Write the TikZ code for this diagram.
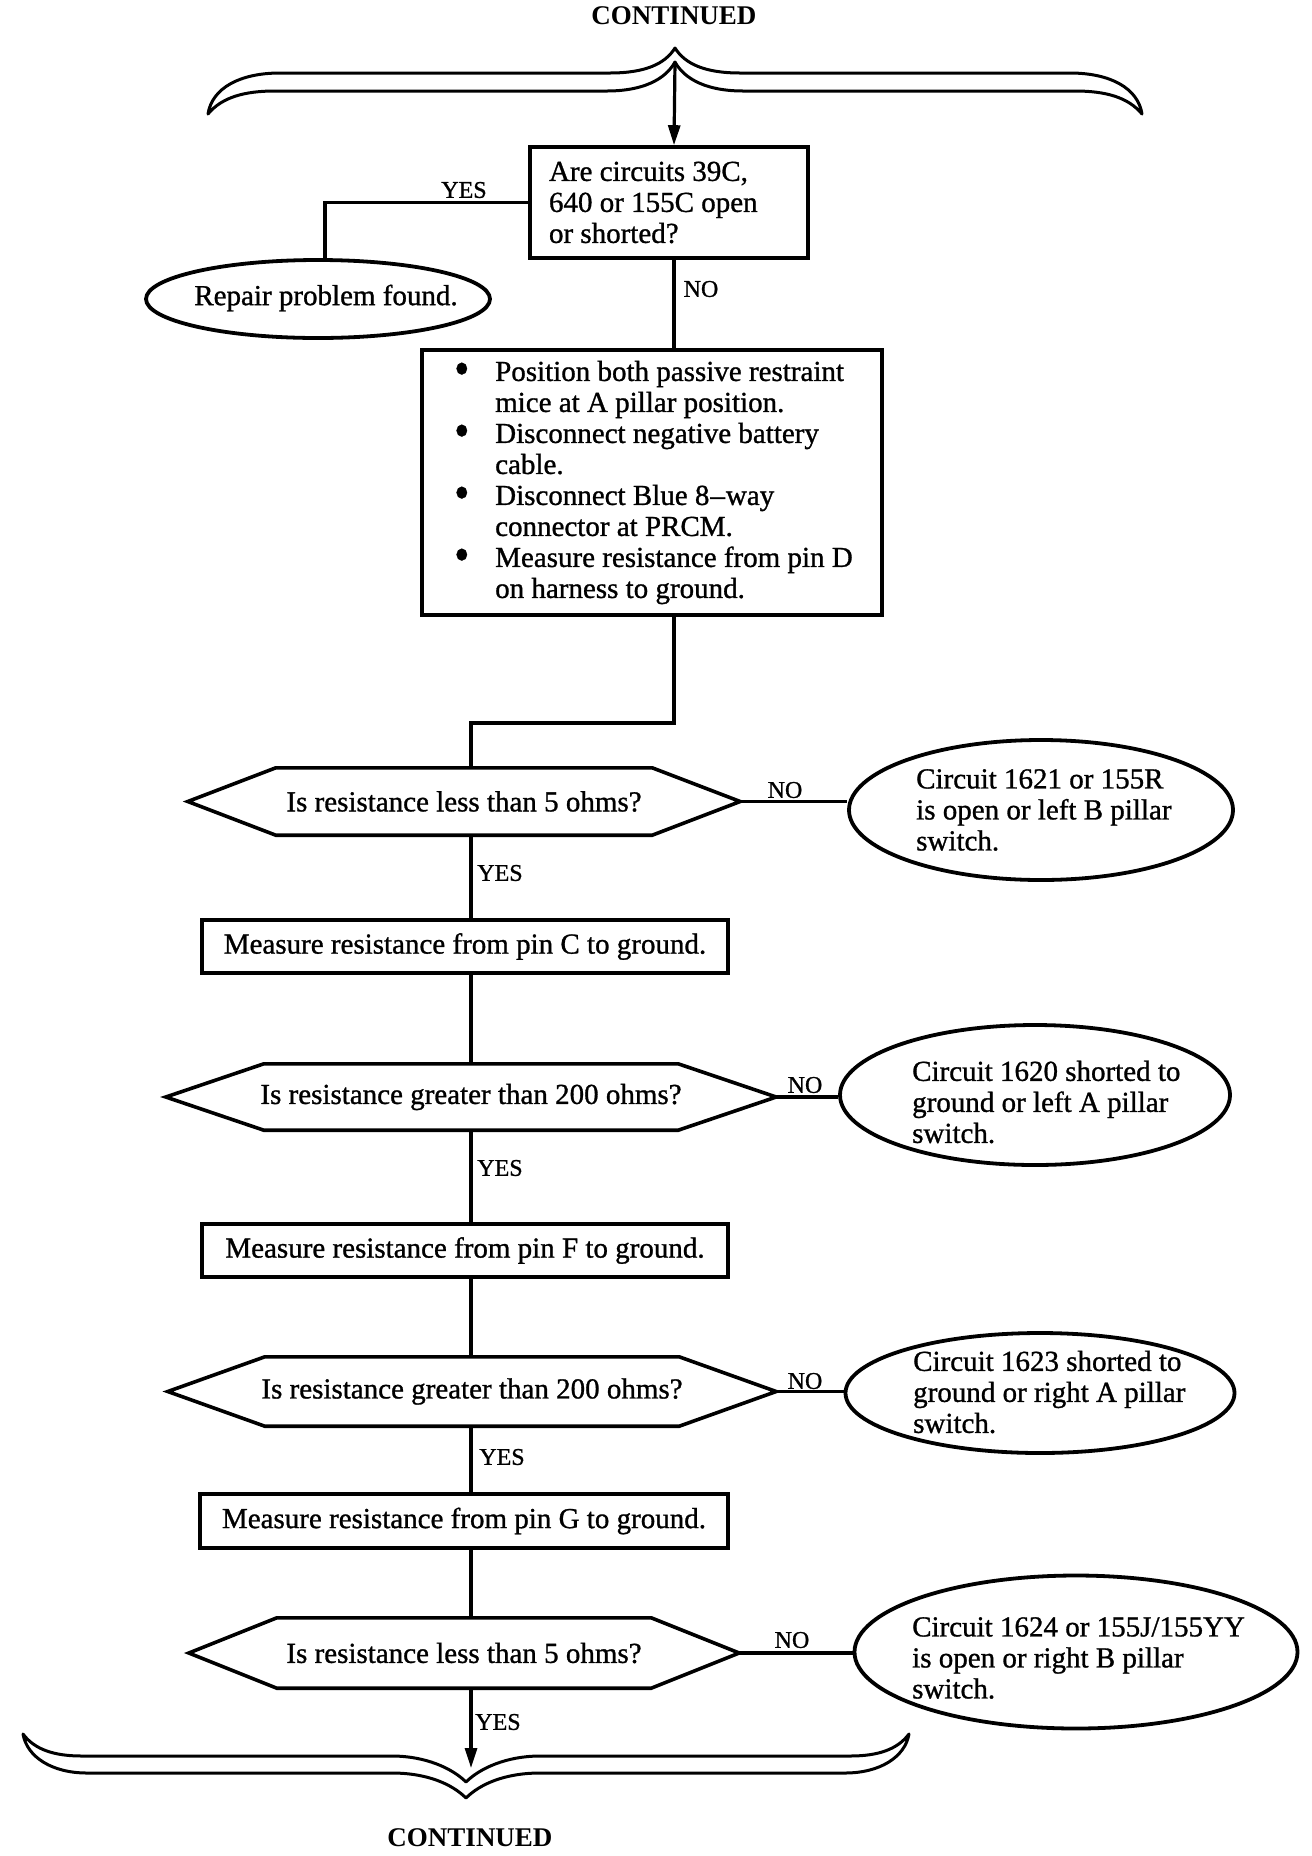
\documentclass[tikz,border=0pt]{standalone}
\usepackage{fontspec}
\setmainfont{Liberation Serif}
\newfontfamily\scanfont{Liberation Serif}[FakeBold=1.0,Ligatures=TeX]
\usetikzlibrary{arrows.meta,shapes.geometric}
\newcommand\hexframe[2]{\draw[hexline] (#1.west) -- ([xshift=#2]#1.north west) -- ([xshift=-#2]#1.north east) -- (#1.east) -- ([xshift=-#2]#1.south east) -- ([xshift=#2]#1.south west) -- cycle;}
\newcommand\bul{\makebox[50pt][l]{\hspace*{9pt}\raisebox{-4pt}{\scalebox{1.5}[1.7]{\textbullet}}}}
\newcommand\ind{\makebox[50pt][l]{}}
\begin{document}
\begin{tikzpicture}[x=1pt,y=-1pt,
  txt/.style={font=\scanfont\fontsize{29}{31}\selectfont, inner sep=0pt},
  boxnode/.style={txt, draw, line width=3.6pt, align=center},
  hexnode/.style={txt, align=center},
  hexline/.style={line width=3.6pt, line join=miter},
  ovalnode/.style={draw, ellipse, line width=3.8pt, inner sep=0pt},
  ovaltext/.style={txt, align=left},
  lbl/.style={font=\scanfont\fontsize{24}{26}\selectfont, inner sep=0pt},
  contlbl/.style={font=\bfseries\fontsize{27}{29}\selectfont, inner sep=0pt},
  conn/.style={line width=3.2pt},
  arr/.style={conn, -{Triangle[length=20pt,width=12pt]}},
  bracestyle/.style={line width=3pt, line join=round, fill=white}
]
\useasboundingbox (0,0) rectangle (1312,1856);
\fill[white] (0,0) rectangle (1312,1856);

% helper coordinates
\coordinate (spine) at (471,0);
\coordinate (mainx) at (674,0);
\coordinate (yesx) at (325,0);
\coordinate (bend) at (674,723);
\coordinate (topnotch) at (675,62);
\coordinate (botend) at (471,1768);

% continuation labels
\node[contlbl] (cont1) at (674,16) {CONTINUED};
\node[contlbl] (cont2) at (470,1838) {CONTINUED};

% top brace
\draw[bracestyle] (208,114) .. controls (212,88) and (240,73) .. (280,73) -- (610,73)
  .. controls (645,73) and (665,64) .. (675,48)
  .. controls (685,64) and (705,73) .. (740,73) -- (1070,73)
  .. controls (1110,73) and (1138,88) .. (1142,114)
  .. controls (1128,97) and (1105,91) .. (1075,91) -- (743,91)
  .. controls (708,91) and (685,80) .. (675,62)
  .. controls (665,80) and (642,91) .. (607,91) -- (275,91)
  .. controls (245,91) and (222,97) .. (208,114) -- cycle;

% bottom brace
\draw[bracestyle] (23,1734) .. controls (35,1750) and (55,1756) .. (82,1756) -- (392,1756)
  .. controls (425,1756) and (452,1768) .. (466,1782)
  .. controls (480,1768) and (507,1756) .. (540,1756) -- (850,1756)
  .. controls (877,1756) and (897,1750) .. (909,1734)
  .. controls (905,1757) and (880,1773) .. (845,1773) -- (540,1773)
  .. controls (505,1773) and (480,1784) .. (466,1798)
  .. controls (452,1784) and (427,1773) .. (392,1773) -- (87,1773)
  .. controls (52,1773) and (27,1757) .. (23,1734) -- cycle;

% first question
\node[boxnode, minimum width=278pt, minimum height=111pt, text width=240pt, align=flush left] (q1) at (669,202.5)
  {Are circuits 39C,\\640 or 155C open\\or shorted?};
\node[ovalnode, minimum width=344pt, minimum height=78pt] (rep) at (318,299) {};
\node[txt] (reptxt) at (326,298) {Repair problem found.};

% steps box
\node[boxnode, minimum width=460pt, minimum height=265pt] (steps) at (652,482.5) {};
\node[txt, align=left, anchor=west] (stepst) at (445,482.5)
  {\bul Position both passive restraint\\
   \ind mice at A pillar position.\\
   \bul Disconnect negative battery\\
   \ind cable.\\
   \bul Disconnect Blue 8\kern1pt–\kern1pt way\\
   \ind connector at PRCM.\\
   \bul Measure resistance from pin D\\
   \ind on harness to ground.};

% decisions
\node[hexnode, minimum width=552pt, minimum height=67pt] (d1) at (464,801.5) {Is resistance less than 5 ohms?};
\hexframe{d1}{88pt}
\node[ovalnode, minimum width=384pt, minimum height=140pt] (e1) at (1041,810) {};
\node[ovaltext, anchor=west] (e1t) at (916,810) {Circuit 1621 or 155R\\is open or left B pillar\\switch.};

\node[boxnode, minimum width=526pt, minimum height=53pt] (mc) at (465,946.5) {Measure resistance from pin C to ground.};

\node[hexnode, minimum width=610pt, minimum height=66pt] (d2) at (471,1097) {Is resistance greater than 200 ohms?};
\hexframe{d2}{98pt}
\node[ovalnode, minimum width=390pt, minimum height=140pt] (e2) at (1035,1095) {};
\node[ovaltext, anchor=west] (e2t) at (912,1102) {Circuit 1620 shorted to\\ground or left A pillar\\switch.};

\node[boxnode, minimum width=526pt, minimum height=53pt] (mf) at (465,1250.5) {Measure resistance from pin F to ground.};

\node[hexnode, minimum width=608pt, minimum height=69pt] (d3) at (472,1391.5) {Is resistance greater than 200 ohms?};
\hexframe{d3}{97pt}
\node[ovalnode, minimum width=389pt, minimum height=120pt] (e3) at (1040,1393) {};
\node[ovaltext, anchor=west] (e3t) at (913,1392) {Circuit 1623 shorted to\\ground or right A pillar\\switch.};

\node[boxnode, minimum width=528pt, minimum height=54pt] (mg) at (464,1521) {Measure resistance from pin G to ground.};

\node[hexnode, minimum width=550pt, minimum height=70pt] (d4) at (464,1653) {Is resistance less than 5 ohms?};
\hexframe{d4}{88pt}
\node[ovalnode, minimum width=443pt, minimum height=153pt] (e4) at (1076,1652) {};
\node[ovaltext, anchor=west] (e4t) at (912,1658) {Circuit 1624 or 155J/155YY\\is open or right B pillar\\switch.};

% labels
\node[lbl] (yes0) at (464,190) {YES};
\node[lbl] (no0) at (701,289) {NO};
\node[lbl] (no1) at (785,790) {NO};
\node[lbl] (yes1) at (500,873) {YES};
\node[lbl] (no2) at (805,1085) {NO};
\node[lbl] (yes2) at (500,1168) {YES};
\node[lbl] (no3) at (805,1381) {NO};
\node[lbl] (yes3) at (502,1457) {YES};
\node[lbl] (no4) at (792,1640) {NO};
\node[lbl] (yes4) at (498,1722) {YES};

% connectors
\draw[arr] (topnotch) -- (q1.north -| mainx);
\draw[conn] (q1.west) -| (rep.north -| yesx);
\draw[conn] (q1.south -| mainx) -- (steps.north -| mainx);
\draw[conn] (steps.south -| mainx) -- (bend) -| (d1.north -| spine);
\draw[conn] (d1.east) -- (d1.east -| e1.west);
\draw[conn] (d1.south -| spine) -- (mc.north -| spine);
\draw[conn] (mc.south -| spine) -- (d2.north -| spine);
\draw[conn] (d2.east) -- (d2.east -| e2.west);
\draw[conn] (d2.south -| spine) -- (mf.north -| spine);
\draw[conn] (mf.south -| spine) -- (d3.north -| spine);
\draw[conn] (d3.east) -- (d3.east -| e3.west);
\draw[conn] (d3.south -| spine) -- (mg.north -| spine);
\draw[conn] (mg.south -| spine) -- (d4.north -| spine);
\draw[conn] (d4.east) -- (d4.east -| e4.west);
\draw[arr] (d4.south -| spine) -- (botend);
\end{tikzpicture}
\end{document}
